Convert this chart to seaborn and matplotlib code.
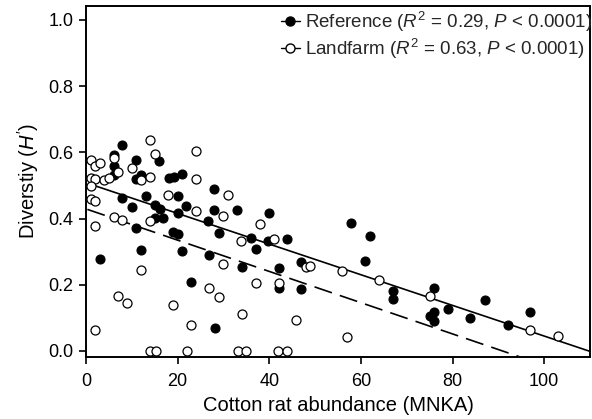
import numpy as np
import matplotlib
matplotlib.use("Agg")
import matplotlib.pyplot as plt
import seaborn as sns
from matplotlib.lines import Line2D

# Reference sites (filled)
ref_x = [7.9, 6.0, 11.0, 15.9, 6.0, 6.2, 11.0, 12.1, 18.2, 19.3, 21.0, 7.9, 13.0, 10.0,
         15.0, 16.1, 20.0, 21.9, 15.0, 16.9, 20.0, 26.7, 11.0, 19.0, 20.0, 3.0, 12.0, 21.0,
         26.8, 23.0, 28.0, 28.0, 33.0, 39.9, 29.1, 36.0, 43.9, 37.0, 39.8, 34.0, 42.1, 47.0,
         42.1, 47.0, 28.1, 57.9, 61.9, 61.0, 66.9, 66.9, 76.0, 76.0, 75.0, 76.0, 78.9, 83.8,
         87.0, 92.1, 97.0]
ref_y = [0.623, 0.593, 0.578, 0.575, 0.558, 0.530, 0.519, 0.532, 0.522, 0.524, 0.534, 0.461,
         0.468, 0.436, 0.441, 0.429, 0.469, 0.439, 0.402, 0.402, 0.416, 0.394, 0.372, 0.360,
         0.352, 0.279, 0.304, 0.302, 0.289, 0.208, 0.489, 0.425, 0.425, 0.418, 0.355, 0.342,
         0.339, 0.307, 0.332, 0.254, 0.252, 0.270, 0.190, 0.187, 0.068, 0.387, 0.348, 0.272,
         0.182, 0.157, 0.190, 0.119, 0.106, 0.089, 0.128, 0.099, 0.155, 0.079, 0.118]

# Landfarm sites (open)
land_x = [14.0, 23.9, 1.0, 2.0, 3.0, 6.0, 15.0, 10.0, 7.0, 1.0, 2.0, 3.9, 5.0, 12.0, 14.0,
          23.9, 1.0, 1.0, 2.0, 18.0, 23.9, 6.0, 7.9, 14.0, 2.0, 12.0, 26.8, 7.0, 9.0, 19.0,
          2.0, 23.0, 14.0, 15.2, 22.0, 31.0, 29.9, 37.9, 33.9, 41.0, 29.9, 48.0, 48.8, 29.0,
          37.0, 42.1, 34.0, 45.9, 33.1, 35.0, 41.9, 43.9, 55.9, 64.0, 75.0, 57.0, 97.0, 103.0]
land_y = [0.636, 0.603, 0.578, 0.559, 0.568, 0.583, 0.595, 0.553, 0.542, 0.522, 0.520, 0.517,
          0.522, 0.517, 0.524, 0.520, 0.497, 0.458, 0.454, 0.471, 0.423, 0.405, 0.395, 0.393,
          0.378, 0.246, 0.191, 0.165, 0.145, 0.139, 0.062, 0.078, 0.0, 0.0, 0.0, 0.471, 0.409,
          0.383, 0.331, 0.337, 0.263, 0.255, 0.258, 0.162, 0.205, 0.205, 0.113, 0.093, 0.0,
          0.0, 0.0, 0.0, 0.240, 0.215, 0.167, 0.043, 0.062, 0.045]

# Fitted regression lines (intercept, slope) and x-span
ref_fit = (0.508, -0.00463)
land_fit = (0.429, -0.00472)
ref_span = (1.5, 110.0)
land_span = (0.3, 103.0)

ref_label = r"Reference ($R^2$ = 0.29, $P$ < 0.0001)"
land_label = r"Landfarm ($R^2$ = 0.63, $P$ < 0.0001)"
x_ticks = [0, 20, 40, 60, 80, 100]
y_ticks = [0.0, 0.2, 0.4, 0.6, 0.8, 1.0]

sns.set_theme(style="ticks")
plt.rcParams['font.family'] = ['Liberation Sans', 'DejaVu Sans']
plt.rcParams['mathtext.fontset'] = 'custom'
plt.rcParams['mathtext.rm'] = 'Liberation Sans'
plt.rcParams['mathtext.it'] = 'Liberation Sans:italic'
plt.rcParams['mathtext.bf'] = 'Liberation Sans:bold'

fig = plt.figure(figsize=(5.92, 4.19), dpi=100)
ax = fig.add_axes([0.1453, 0.149, 0.8513, 0.8367])

sns.scatterplot(x=ref_x, y=ref_y, color='black', edgecolor='black', s=42,
                linewidth=0.8, ax=ax, zorder=3, clip_on=False)
sns.scatterplot(x=land_x, y=land_y, color='white', edgecolor='black', s=42,
                linewidth=0.9, ax=ax, zorder=4, clip_on=False)

xr = np.linspace(ref_span[0], ref_span[1], 50)
ax.plot(xr, ref_fit[0] + ref_fit[1] * xr, color='black', lw=1.2, zorder=2)
xl = np.linspace(land_span[0], land_span[1], 50)
ax.plot(xl, land_fit[0] + land_fit[1] * xl, color='black', lw=1.2,
        dashes=(11, 5), zorder=2)

ax.set_xlim(0, 110)
ax.set_ylim(-0.017, 1.042)
ax.set_xticks(x_ticks)
ax.set_yticks(y_ticks)
ax.set_xticklabels([str(t) for t in x_ticks])
ax.set_yticklabels([f"{t:.1f}" for t in y_ticks])
ax.tick_params(direction='out', length=5, width=1.2, labelsize=13, colors='black')
ax.tick_params(axis='x', pad=7)
ax.tick_params(axis='y', pad=4)
for s in ax.spines.values():
    s.set_linewidth(1.4)
    s.set_color('black')

ax.set_xlabel("Cotton rat abundance (MNKA)", fontsize=14.5, color='black', labelpad=4)
ax.set_ylabel(r"Diverstiy ($H'$)", fontsize=14.5, color='black', labelpad=5)

handles = [
    Line2D([0], [0], color='black', lw=1.0, marker='o', markersize=6.5,
           markerfacecolor='black', markeredgecolor='black'),
    Line2D([0], [0], color='black', lw=1.0, marker='o', markersize=6.5,
           markerfacecolor='white', markeredgecolor='black'),
]
ax.legend(handles, [ref_label, land_label], loc='upper right',
          bbox_to_anchor=(1.005, 0.99), frameon=False, fontsize=13.5,
          handlelength=1.0, handletextpad=0.3, labelspacing=0.15,
          borderpad=0.0, borderaxespad=0.0)

fig.savefig("out.png", dpi=100)
